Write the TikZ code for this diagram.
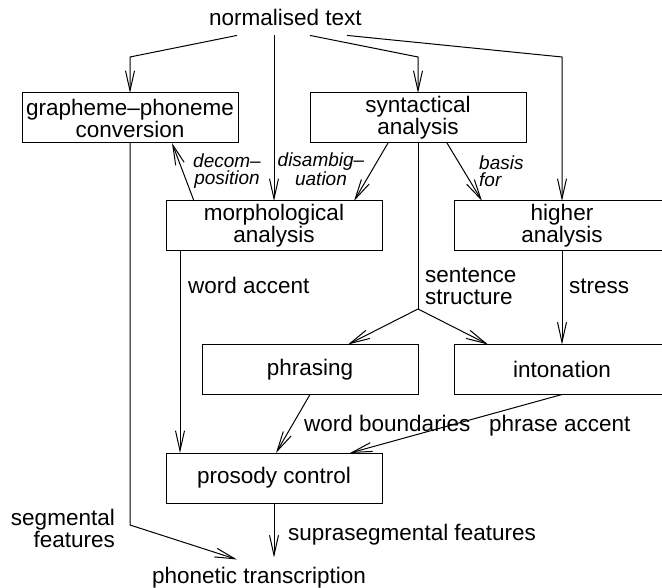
\documentclass[tikz,border=0pt]{standalone}
\usepackage{fontspec}
\setmainfont{Liberation Sans}
\usetikzlibrary{arrows.meta}
\begin{document}
\begin{tikzpicture}[x=1pt,y=-1pt,
  box/.style={draw, line width=1pt, minimum width=216pt, minimum height=50pt, inner sep=0pt, outer sep=0pt, align=center, font=\fontsize{22.5}{20}\selectfont},
  lbl/.style={inner sep=0pt, font=\fontsize{22.5}{22}\selectfont},
  ilbl/.style={inner sep=0pt, font=\fontsize{19}{17.5}\selectfont\itshape},
  conn/.style={line width=1pt, -{Straight Barb[length=20pt,width=9pt]}},
  plain/.style={line width=1pt}
]
\begin{scope}
\clip (0,0) rectangle (662,588);
% nodes
\node[lbl, anchor=base] (norm) at (285.5,26) {normalised text};
\node[box] (gp) at (130,118) {grapheme\textendash phoneme\\conversion};
\node[box] (syn) at (418,118) {syntactical\\analysis};
\node[box] (morph) at (274,226) {morphological\\analysis};
\node[box] (higher) at (562,226) {higher\\analysis};
\node[box] (phr) at (310,369.5) {phrasing};
\node[box] (inton) at (562,369.5) {intonation};
\node[box] (pros) at (274,478) {prosody control};
\node[lbl, anchor=base] (phon) at (259,583) {phonetic transcription};
% bend points
\coordinate (b1) at (130,57);
\coordinate (b3) at (418,57);
\coordinate (b4) at (562,57);
\coordinate (split) at (418,309);
\coordinate (sb) at (130,525);
% connectors
\draw[conn] ([xshift=-48.5pt,yshift=-9pt]norm.south) -- (b1) -- (gp.north);
\draw[conn] ([xshift=-11.5pt,yshift=-9pt]norm.south) -- (morph.north);
\draw[conn] ([xshift=24.5pt,yshift=-9pt]norm.south) -- (b3) -- (syn.north);
\draw[conn] ([xshift=61.5pt,yshift=-9pt]norm.south) -- (b4) -- (higher.north);
\draw[conn] ([xshift=28pt]morph.north west) -- ([xshift=150pt]gp.south west);
\draw[conn] ([xshift=78pt]syn.south west) -- ([xshift=-28pt]morph.north east);
\draw[conn] ([xshift=137pt]syn.south west) -- ([xshift=28pt]higher.north west);
\draw[plain] (syn.south) -- (split);
\draw[conn] (split) -- ([xshift=-70pt]phr.north east);
\draw[conn] (split) -- ([xshift=34pt]inton.north west);
\draw[conn] (higher.south) -- (inton.north);
\draw[conn] ([xshift=14pt]morph.south west) -- ([xshift=14pt]pros.north west);
\draw[conn] (phr.south) -- ([xshift=2pt]pros.north);
\draw[conn] (inton.south) -- ([xshift=-32pt]pros.north east);
\draw[conn] (gp.south) -- (sb) -- ([xshift=-22pt,yshift=7pt]phon.north);
\draw[conn] (pros.south) -- ([xshift=15pt,yshift=9pt]phon.north);
% labels
\node[lbl, anchor=base west] (lwa) at (188,294) {word accent};
\node[lbl, anchor=base west] (lst) at (569,294) {stress};
\node[lbl, anchor=west, align=left] (lss) at (425,286) {sentence\\structure};
\node[lbl, anchor=base west] (lwb) at (304,431) {word boundaries};
\node[lbl, anchor=base west] (lpa) at (489,431) {phrase accent};
\node[lbl, anchor=base west] (lsf) at (288,540) {suprasegmental features};
\node[lbl, anchor=east, align=right] (lseg) at (115,528) {segmental\\features};
\node[ilbl, align=center] (ldec) at (227,171) {decom\textendash\\position};
\node[ilbl, align=center] (ldis) at (321,169) {disambig\textendash\\uation};
\node[ilbl, anchor=west, align=left] (lbas) at (479,171) {basis\\for};
\end{scope}
\pgfresetboundingbox
\useasboundingbox (0,0) rectangle (662,588);
\end{tikzpicture}
\end{document}
